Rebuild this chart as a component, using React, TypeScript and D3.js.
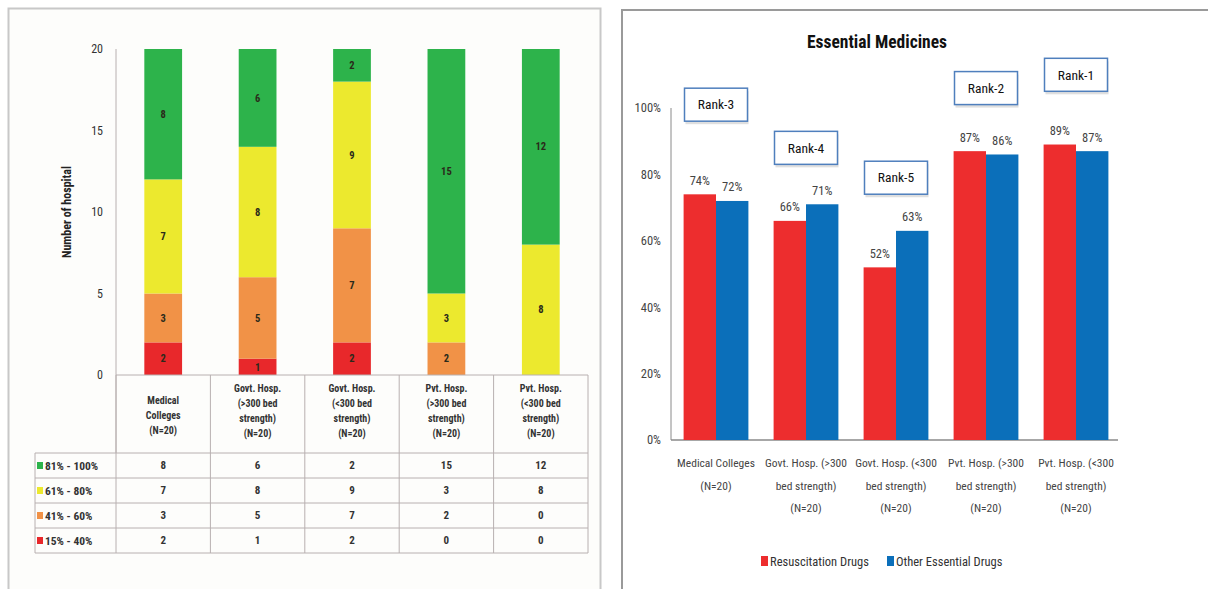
import React from "react";
import * as d3 from "d3";

// ---------- Left chart data ----------
const leftCategories = [
  ["Medical", "Colleges", "(N=20)"],
  ["Govt. Hosp.", "(>300 bed", "strength)", "(N=20)"],
  ["Govt. Hosp.", "(<300 bed", "strength)", "(N=20)"],
  ["Pvt. Hosp.", "(>300 bed", "strength)", "(N=20)"],
  ["Pvt. Hosp.", "(<300 bed", "strength)", "(N=20)"],
];
const bandLabels = ["81% - 100%", "61% - 80%", "41% - 60%", "15% - 40%"];
const band81to100 = [8, 6, 2, 15, 12];
const band61to80 = [7, 8, 9, 3, 8];
const band41to60 = [3, 5, 7, 2, 0];
const band15to40 = [2, 1, 2, 0, 0];
const leftTicks = [0, 5, 10, 15, 20];

// ---------- Right chart data ----------
const rightCategories = [
  ["Medical Colleges", "(N=20)"],
  ["Govt. Hosp. (>300", "bed strength)", "(N=20)"],
  ["Govt. Hosp. (<300", "bed strength)", "(N=20)"],
  ["Pvt. Hosp. (>300", "bed strength)", "(N=20)"],
  ["Pvt. Hosp. (<300", "bed strength)", "(N=20)"],
];
const resuscitation = [74, 66, 52, 87, 89];
const otherEssential = [72, 71, 63, 86, 87];
const rankLabels = ["Rank-3", "Rank-4", "Rank-5", "Rank-2", "Rank-1"];
const rankLevel = [101, 88, 79, 106, 110]; // annotation centre, in % units
const rightTicks = [0, 20, 40, 60, 80, 100];
const seriesNames = ["Resuscitation Drugs", "Other Essential Drugs"];

const FONT = "'Liberation Sans Narrow', 'Arial Narrow', 'Roboto Condensed', Roboto, 'Open Sans', sans-serif";

export default function App() {
  // ---------- left scales ----------
  const lx = d3
    .scaleBand<number>()
    .domain(d3.range(leftCategories.length))
    .range([116, 588])
    .paddingInner(0.6)
    .paddingOuter(0.3);
  const ly = d3.scaleLinear().domain([0, 20]).range([375, 49]);
  const colStep = lx.step();
  const colLeft = (i: number) => 116 + i * colStep;

  const bandSeries = [band81to100, band61to80, band41to60, band15to40];
  const bandColors = ["#2db34b", "#ece92e", "#f19247", "#e8282b"];
  const stackData = leftCategories.map((_, i) => ({
    i,
    b0: band15to40[i],
    b1: band41to60[i],
    b2: band61to80[i],
    b3: band81to100[i],
  }));
  const stack = d3.stack<any>().keys(["b0", "b1", "b2", "b3"])(stackData);
  const stackColors = ["#e8282b", "#f19247", "#ece92e", "#2db34b"];

  const rowTop = 453;
  const rowH = 25;

  // ---------- right scales ----------
  const rx = d3
    .scaleBand<number>()
    .domain(d3.range(rightCategories.length))
    .range([671, 1121])
    .paddingInner(0.28)
    .paddingOuter(0.14);
  const rx1 = d3.scaleBand<number>().domain([0, 1]).range([0, rx.bandwidth()]);
  const ry = d3.scaleLinear().domain([0, 100]).range([440, 108]);
  const rColors = ["#ed2d2e", "#0b6fba"];

  return (
    <svg width={1208} height={589} style={{ position: "absolute", left: 0, top: 0, fontFamily: FONT }}>
      <rect x={0} y={0} width={1208} height={589} fill="#ffffff" />
      {/* ================= LEFT PANEL ================= */}
      <rect x={8.5} y={8.5} width={592} height={590} fill="#fdfdfb" stroke="#c8c8c8" strokeWidth={2} />

      {/* y axis */}
      <line x1={116} x2={116} y1={ly(20)} y2={rowTop} stroke="#b8b0b0" strokeWidth={1} />
      {leftTicks.map((t) => (
        <text key={t} x={103} y={ly(t)} dy="0.35em" textAnchor="end" fontSize={12} fill="#333">
          {t}
        </text>
      ))}
      <text
        transform={`translate(71,${(ly(0) + ly(20)) / 2}) rotate(-90)`}
        textAnchor="middle"
        fontSize={12}
        fontWeight="bold"
        fill="#222"
      >
        Number of hospital
      </text>

      {/* stacked bars */}
      {stack.map((layer, li) =>
        layer.map((d, i) => {
          const v = d[1] - d[0];
          if (v <= 0) return null;
          return (
            <g key={`${li}-${i}`}>
              <rect
                x={lx(i)!}
                y={ly(d[1])}
                width={lx.bandwidth()}
                height={ly(d[0]) - ly(d[1])}
                fill={stackColors[li]}
              />
              <text
                x={lx(i)! + lx.bandwidth() / 2}
                y={(ly(d[0]) + ly(d[1])) / 2}
                dy="0.35em"
                textAnchor="middle"
                fontSize={10.5}
                fontWeight="bold"
                fill="#2a2a1a"
              >
                {v}
              </text>
            </g>
          );
        })
      )}

      {/* data table */}
      <g stroke="#b8b0b0" strokeWidth={1} fill="none">
        <line x1={116} x2={588} y1={375} y2={375} />
        {d3.range(leftCategories.length + 1).map((k) => (
          <line key={k} x1={colLeft(k)} x2={colLeft(k)} y1={375} y2={rowTop + rowH * 4} />
        ))}
        {d3.range(5).map((r) => (
          <line key={r} x1={35} x2={588} y1={rowTop + r * rowH} y2={rowTop + r * rowH} />
        ))}
        <line x1={35} x2={35} y1={rowTop} y2={rowTop + rowH * 4} />
      </g>
      {leftCategories.map((lines, i) => {
        const cx = colLeft(i) + colStep / 2;
        const lh = 15;
        const y0 = lines.length === 3 ? 400 : 388;
        return (
          <text key={i} textAnchor="middle" fontSize={10} fontWeight="bold" fill="#333">
            {lines.map((ln, k) => (
              <tspan key={k} x={cx} y={y0 + k * lh} dy="0.35em">
                {ln}
              </tspan>
            ))}
          </text>
        );
      })}
      {bandLabels.map((lab, r) => {
        const cy = rowTop + r * rowH + rowH / 2;
        return (
          <g key={lab}>
            <rect x={37} y={cy - 3.5} width={6} height={7} fill={bandColors[r]} />
            <text x={45} y={cy} dy="0.35em" fontSize={11.5} fontWeight="bold" fill="#333">
              {lab}
            </text>
            {bandSeries[r].map((v, i) => (
              <text
                key={i}
                x={colLeft(i) + colStep / 2}
                y={cy}
                dy="0.35em"
                textAnchor="middle"
                fontSize={11}
                fontWeight="bold"
                fill="#333"
              >
                {v}
              </text>
            ))}
          </g>
        );
      })}

      {/* ================= RIGHT PANEL ================= */}
      <rect x={622} y={10} width={600} height={600} fill="#ffffff" stroke="#9a9a9a" strokeWidth={2} />
      <text x={877} y={42} dy="0.35em" textAnchor="middle" fontSize={17.5} fontWeight="bold" fill="#111">
        Essential Medicines
      </text>

      {/* axes */}
      <line x1={671} x2={671} y1={ry(100)} y2={ry(0)} stroke="#8a8a8a" strokeWidth={1} />
      <line x1={671} x2={1118} y1={ry(0)} y2={ry(0)} stroke="#8a8a8a" strokeWidth={1.5} />
      {rightTicks.map((t) => (
        <text key={t} x={661} y={ry(t)} dy="0.35em" textAnchor="end" fontSize={12.5} fill="#444">
          {`${t}%`}
        </text>
      ))}

      {/* bars */}
      {rightCategories.map((_, i) => {
        const vals = [resuscitation[i], otherEssential[i]];
        return (
          <g key={i} transform={`translate(${rx(i)},0)`}>
            {vals.map((v, s) => (
              <g key={s}>
                <rect
                  x={rx1(s)!}
                  y={ry(v)}
                  width={rx1.bandwidth()}
                  height={ry(0) - ry(v)}
                  fill={rColors[s]}
                />
                <text
                  x={rx1(s)! + rx1.bandwidth() / 2}
                  y={ry(v) - 14}
                  dy="0.35em"
                  textAnchor="middle"
                  fontSize={12.5}
                  fill="#444"
                >
                  {`${v}%`}
                </text>
              </g>
            ))}
          </g>
        );
      })}

      {/* rank annotations */}
      {rankLabels.map((lab, i) => {
        const cx = rx(i)! + rx.bandwidth() / 2;
        const cy = ry(rankLevel[i]);
        const w = 63;
        const h = 33;
        return (
          <g key={lab}>
            <rect x={cx - w / 2 + 1} y={cy - h / 2 + 3} width={w} height={h} fill="#c9c9c9" opacity={0.6} />
            <rect x={cx - w / 2} y={cy - h / 2} width={w} height={h} fill="#ffffff" stroke="#4f7fbd" strokeWidth={1.5} />
            <text x={cx} y={cy} dy="0.35em" textAnchor="middle" fontSize={13.5} fill="#111">
              {lab}
            </text>
          </g>
        );
      })}

      {/* category labels */}
      {rightCategories.map((lines, i) => {
        const cx = rx(i)! + rx.bandwidth() / 2;
        return (
          <text key={i} textAnchor="middle" fontSize={11.5} fill="#444">
            {lines.map((ln, k) => (
              <tspan key={k} x={cx} y={463 + k * 22.5} dy="0.35em">
                {ln}
              </tspan>
            ))}
          </text>
        );
      })}

      {/* legend */}
      {seriesNames.map((name, s) => {
        const x0 = s === 0 ? 761 : 887;
        return (
          <g key={name}>
            <rect x={x0} y={556} width={7} height={10} fill={rColors[s]} />
            <text x={x0 + 9} y={562} dy="0.35em" fontSize={12.5} fill="#333">
              {name}
            </text>
          </g>
        );
      })}
    </svg>
  );
}
